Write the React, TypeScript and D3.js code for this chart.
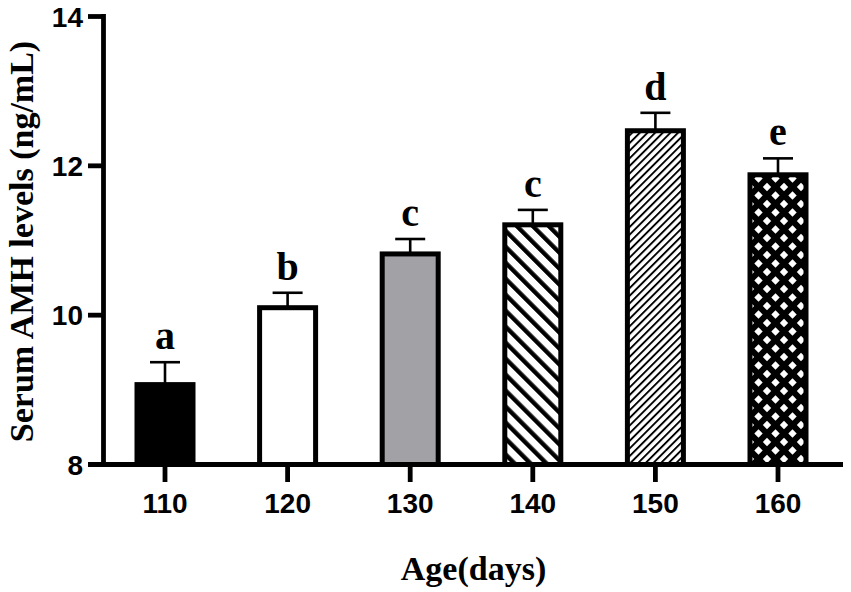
import React from "react";
import * as d3 from "d3";

const categories = ["110", "120", "130", "140", "150", "160"];
const means = [9.07, 10.1, 10.82, 11.21, 12.47, 11.88];
const sems = [0.3, 0.2, 0.2, 0.2, 0.24, 0.22];
const letters = ["a", "b", "c", "c", "d", "e"];
const fills = ["#000000", "#ffffff", "#a2a2a6", "url(#pStripeThick)", "url(#pStripeThin)", "url(#pCross)"];
const yTicks = [8, 10, 12, 14];

const W = 851;
const H = 592;

export default function App() {
  const x = d3.scaleBand<string>().domain(categories).range([103.7, 839.3]).padding(0);
  const y = d3.scaleLinear().domain([8, 14]).range([464.5, 16.5]);
  const barW = 56;
  const capW = 30;
  const axisX = 103.5;
  const axisY = 464.5;
  const numFont = "'Liberation Sans', Arial, sans-serif";
  const serif = "'Liberation Serif', 'Times New Roman', serif";

  return (
    <svg width={W} height={H} style={{ position: "absolute", left: 0, top: 0, background: "#fff" }}>
      <defs>
        <pattern id="pStripeThick" patternUnits="userSpaceOnUse" width={11.3} height={11.3} patternTransform="rotate(-45)">
          <rect x={0} y={0} width={11.3} height={11.3} fill="#fff" />
          <rect x={0} y={0} width={4.4} height={11.3} fill="#000" />
        </pattern>
        <pattern id="pStripeThin" patternUnits="userSpaceOnUse" width={5.4} height={5.4} patternTransform="rotate(45)">
          <rect x={0} y={0} width={5.4} height={5.4} fill="#fff" />
          <rect x={0} y={0} width={1.9} height={5.4} fill="#000" />
        </pattern>
        <pattern id="pCross" patternUnits="userSpaceOnUse" width={17} height={17} x={2} y={0}>
          <rect x={0} y={0} width={17} height={17} fill="#000" />
          <polygon points="8.5,4.3 12.7,8.5 8.5,12.7 4.3,8.5" fill="#fff" />
          <polygon points="0,-4.2 4.2,0 0,4.2 -4.2,0" fill="#fff" />
          <polygon points="17,-4.2 21.2,0 17,4.2 12.8,0" fill="#fff" />
          <polygon points="0,12.8 4.2,17 0,21.2 -4.2,17" fill="#fff" />
          <polygon points="17,12.8 21.2,17 17,21.2 12.8,17" fill="#fff" />
        </pattern>
      </defs>

      {/* bars */}
      {categories.map((c, i) => {
        const cx = (x(c) as number) + x.bandwidth() / 2;
        const top = y(means[i]);
        const capY = y(means[i] + sems[i]);
        return (
          <g key={c}>
            <line x1={cx} x2={cx} y1={top} y2={capY} stroke="#000" strokeWidth={2.6} />
            <line x1={cx - capW / 2} x2={cx + capW / 2} y1={capY} y2={capY} stroke="#000" strokeWidth={2.6} />
            <rect
              x={cx - barW / 2}
              y={top}
              width={barW}
              height={axisY - top}
              fill={fills[i]}
              stroke="#000"
              strokeWidth={5}
            />
            <text
              x={cx}
              y={capY - 13}
              textAnchor="middle"
              fontFamily={serif}
              fontWeight="bold"
              fontSize={40}
              fill="#000"
            >
              {letters[i]}
            </text>
          </g>
        );
      })}

      {/* y axis */}
      <line x1={axisX} x2={axisX} y1={y(14) - 2.4} y2={axisY} stroke="#000" strokeWidth={4.8} />
      {yTicks.map((t) => (
        <g key={t}>
          <line x1={88} x2={axisX} y1={y(t)} y2={y(t)} stroke="#000" strokeWidth={4.8} />
          <text
            x={83}
            y={y(t)}
            dy="0.36em"
            textAnchor="end"
            fontFamily={numFont}
            fontWeight="bold"
            fontSize={28}
            fill="#000"
          >
            {t}
          </text>
        </g>
      ))}

      {/* x axis */}
      <line x1={88} x2={843} y1={axisY} y2={axisY} stroke="#000" strokeWidth={4.8} />
      {categories.map((c) => {
        const cx = (x(c) as number) + x.bandwidth() / 2;
        return (
          <g key={"t" + c}>
            <line x1={cx} x2={cx} y1={axisY} y2={482} stroke="#000" strokeWidth={4.8} />
            <text
              x={cx}
              y={513}
              textAnchor="middle"
              fontFamily={numFont}
              fontWeight="bold"
              fontSize={28}
              fill="#000"
            >
              {c}
            </text>
          </g>
        );
      })}

      {/* axis titles */}
      <text
        x={473.5}
        y={580}
        textAnchor="middle"
        fontFamily={serif}
        fontWeight="bold"
        fontSize={34}
        fill="#000"
      >
        Age(days)
      </text>
      <text
        transform={`translate(33,241.5) rotate(-90)`}
        textAnchor="middle"
        fontFamily={serif}
        fontWeight="bold"
        fontSize={34}
        fill="#000"
      >
        Serum AMH levels (ng/mL)
      </text>
    </svg>
  );
}
